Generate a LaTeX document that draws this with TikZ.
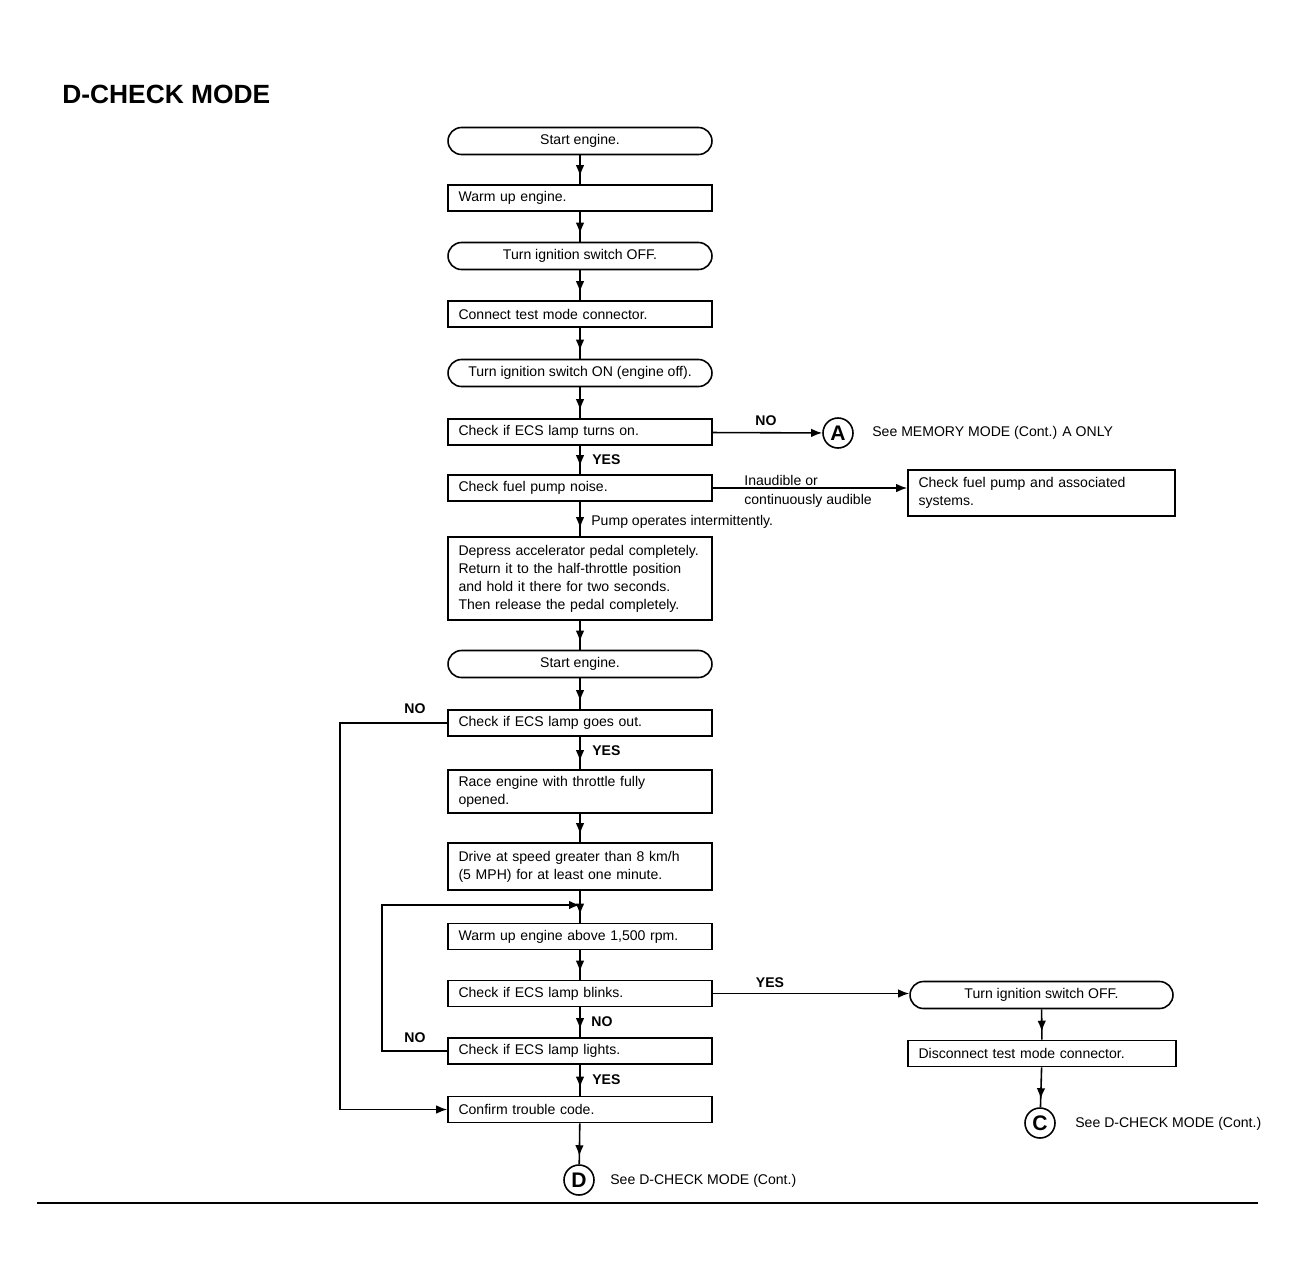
\documentclass[tikz,border=0pt]{standalone}
\usepackage{fontspec}
\setmainfont{Liberation Sans}
\usetikzlibrary{arrows.meta,decorations.markings}

\begin{document}
\begin{tikzpicture}[
        x=0.02cm, y=-0.02cm,
        every node/.style={font=\fontsize{8}{10.2}\selectfont},
        stepbox/.style={rectangle, draw, line width=0.9pt, minimum width=5.28cm, minimum height=0.52cm, text width=4.86cm, inner xsep=0.21cm, inner ysep=0pt, align=left, execute at begin node={\hyphenpenalty=10000\relax}},
        termbox/.style={rectangle, draw, line width=0.9pt, rounded corners=0.27cm, minimum width=5.28cm, minimum height=0.54cm, inner ysep=0pt, align=center},
        conn/.style={circle, draw, line width=0.9pt, minimum size=0.6cm, inner sep=0pt, font=\fontsize{12}{14}\selectfont\bfseries},
        note/.style={anchor=west, inner sep=0pt},
        lbl/.style={inner sep=0pt, font=\fontsize{8}{10}\selectfont\bfseries},
        flow/.style={line width=0.9pt, postaction={decorate}, decoration={markings, mark=at position -1.6mm with {\arrow{Latex[length=2.2mm,width=1.7mm]}}}},
        hit/.style={line width=0.9pt, -{Latex[length=2.2mm,width=1.7mm]}}
    ]
        \useasboundingbox (0,0) rectangle (1295,1279);

        \node[note, font=\fontsize{15}{18}\selectfont\bfseries] (title) at (62,94) {D-CHECK MODE};

        % main column
        \node[termbox] (start)   at (580,141)    {Start engine.};
        \node[stepbox] (warm)    at (580,198)    {Warm up engine.};
        \node[termbox] (off)     at (580,256)    {Turn ignition switch OFF.};
        \node[stepbox] (connect) at (580,314)    {Connect test mode connector.};
        \node[termbox] (on)      at (580,373)    {Turn ignition switch ON (engine off).};
        \node[stepbox] (lampon)  at (580,432)    {Check if ECS lamp turns on.};
        \node[stepbox] (pump)    at (580,488)    {Check fuel pump noise.};
        \node[stepbox, minimum height=1.66cm] (pedal) at (580,578.5)
            {Depress accelerator pedal completely.\\Return it to the half-throttle position\\and hold it there for two seconds.\\Then release the pedal completely.};
        \node[termbox] (restart) at (580,664)    {Start engine.};
        \node[stepbox] (goesout) at (580,723)    {Check if ECS lamp goes out.};
        \node[stepbox, minimum height=0.86cm] (race)  at (580,791.5) {Race engine with throttle fully\\opened.};
        \node[stepbox, minimum height=0.94cm] (drive) at (580,866.5) {Drive at speed greater than 8 km/h\\(5 MPH) for at least one minute.};
        \node[stepbox] (warmup)  at (580,936.5)  {Warm up engine above 1,500 rpm.};
        \node[stepbox] (blinks)  at (580,993.5)  {Check if ECS lamp blinks.};
        \node[stepbox] (lights)  at (580,1051)   {Check if ECS lamp lights.};
        \node[stepbox] (confirm) at (580,1109.5) {Confirm trouble code.};
        \node[conn]    (D)       at (579,1180)   {D};

        % right side
        \node[conn] (A) at (838,433) {A};
        \node[stepbox, minimum width=5.34cm, text width=4.92cm, minimum height=0.92cm] (fuel) at (1041.5,493)
            {Check fuel pump and associated\\systems.};
        \node[termbox, minimum width=5.26cm] (offR) at (1041.5,995) {Turn ignition switch OFF.};
        \node[stepbox, minimum width=5.36cm, text width=4.94cm] (disconnect) at (1042,1053.5) {Disconnect test mode connector.};
        \node[conn] (C) at (1040,1123) {C};

        % notes and answers
        \node[note] (seeA) at (872,433)  {See MEMORY MODE (Cont.) A ONLY};
        \node[note] (seeD) at (610,1181) {See D-CHECK MODE (Cont.)};
        \node[note] (seeC) at (1075,1124) {See D-CHECK MODE (Cont.)};
        \node[lbl] (noA)   at (766,421)  {NO};
        \node[lbl, anchor=west] (yes1) at (592,460) {YES};
        \node[note] (inaud)  at (744,480) {Inaudible or};
        \node[note] (contin) at (744,501) {continuously audible};
        \node[note] (interm) at (591,522) {Pump operates intermittently.};
        \node[lbl] (no2)   at (415,709)  {NO};
        \node[lbl, anchor=west] (yes2) at (592,751) {YES};
        \node[lbl] (yes3)  at (770,983)  {YES};
        \node[lbl, anchor=west] (no3) at (591,1022) {NO};
        \node[lbl] (no4)   at (415,1038) {NO};
        \node[lbl, anchor=west] (yes4) at (592,1080) {YES};

        \coordinate (join)  at (580,905);
        \coordinate (outer) at (340,0);
        \coordinate (inner) at (382,0);

        % connectors
        \foreach \a/\b in {start/warm, warm/off, off/connect, connect/on, on/lampon, lampon/pump, pump/pedal,
                pedal/restart, restart/goesout, goesout/race, race/drive, drive/warmup, warmup/blinks,
                blinks/lights, lights/confirm, confirm/D, offR/disconnect, disconnect/C}
            \draw[flow] (\a) -- (\b);
        \draw[hit] (lampon) -- (A);
        \draw[hit] (pump.east) -- (pump.east -| fuel.west);
        \draw[hit] (blinks.east) -- (blinks.east -| offR.west);
        \draw[hit] (goesout.west) -- (outer |- goesout.west) -- (outer |- confirm.west) -- (confirm.west);
        \draw[hit] (lights.west) -- (inner |- lights.west) -- (inner |- join) -- (join);

        \draw[line width=0.6pt] (37,1203) -- (1258,1203);
    \end{tikzpicture}
\end{document}
